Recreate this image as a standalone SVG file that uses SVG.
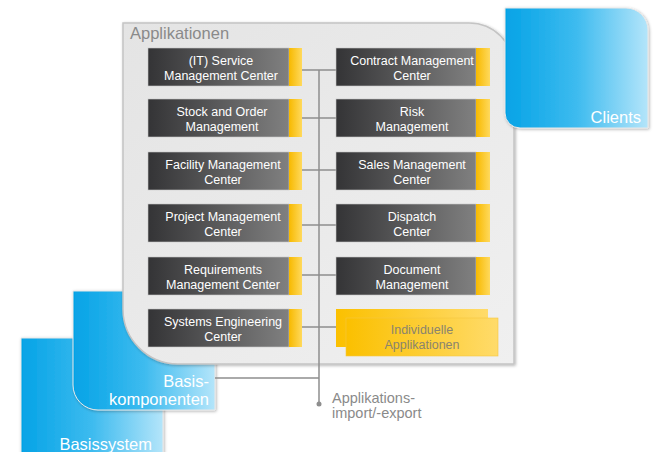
<svg xmlns="http://www.w3.org/2000/svg" width="656" height="452" viewBox="0 0 656 452">
<defs>
<linearGradient id="blue" x1="0" y1="0" x2="1" y2="0">
<stop offset="0" stop-color="#05a3e6"/>
<stop offset="0.5" stop-color="#3dbbef"/>
<stop offset="1" stop-color="#b4e5fa"/>
</linearGradient>
<linearGradient id="panel" x1="0" y1="0" x2="1" y2="1">
<stop offset="0" stop-color="#e4e4e4"/>
<stop offset="1" stop-color="#f0f0f0"/>
</linearGradient>
<linearGradient id="dark" x1="0" y1="0" x2="1" y2="0">
<stop offset="0" stop-color="#343436"/>
<stop offset="1" stop-color="#808080"/>
</linearGradient>
<linearGradient id="yel" x1="0" y1="0" x2="1" y2="0">
<stop offset="0" stop-color="#f7b900"/>
<stop offset="1" stop-color="#ffd95c"/>
</linearGradient>
<linearGradient id="yel2" x1="0" y1="0" x2="1" y2="0">
<stop offset="0" stop-color="#fbc000"/>
<stop offset="1" stop-color="#ffdb6a"/>
</linearGradient>
<filter id="sh" x="-10%" y="-10%" width="120%" height="120%">
<feDropShadow dx="1" dy="1" stdDeviation="1.5" flood-color="#000" flood-opacity="0.3"/>
</filter>
</defs>
<style>
.blue{fill:url(#blue);stroke:#e8e8e8;stroke-width:1;filter:url(#sh)}
.bt{font-family:"Liberation Sans",Arial,sans-serif;font-size:16.5px;fill:#ffffff;text-anchor:end}
.dk{fill:url(#dark);stroke:#c8c8c8;stroke-width:0.6}
.yb{fill:url(#yel)}
.nt{font-family:"Liberation Sans",Arial,sans-serif;font-size:12.5px;fill:#ffffff;text-anchor:middle}
.con{stroke:#8e8e8e;stroke-width:1.5;fill:none}
.gt{font-family:"Liberation Sans",Arial,sans-serif;fill:#8a8a8a}
.it{font-family:"Liberation Sans",Arial,sans-serif;font-size:12.5px;fill:#8a846e;text-anchor:middle}
</style>

<g id="basissystem">
<path class="blue" d="M21,338 H163 V470 H21 Z"/>
<text class="bt" x="152" y="450">Basissystem</text>
</g>

<g id="basiskomponenten">
<path class="blue" d="M73,291 H215 V410 H98 A25,25 0 0 1 73,385 Z"/>
<text class="bt" x="209" y="387">Basis-</text>
<text class="bt" x="209" y="405">komponenten</text>
</g>

<g id="applikationen">
<path d="M123,23 H469 A45,45 0 0 1 514,68 V364 H178 A55,55 0 0 1 123,309 Z" fill="url(#panel)" stroke="#c4c4c4" stroke-width="1.5" filter="url(#sh)"/>
<text class="gt" x="130" y="39" font-size="16.5">Applikationen</text>
</g>

<g id="clients">
<path class="blue" d="M505,8 H626 A22,22 0 0 1 648,30 V128 H520 A15,15 0 0 1 505,113 Z"/>
<text class="bt" x="641" y="123" font-size="16">Clients</text>
</g>

<g id="connectors">
<line class="con" x1="319" y1="70" x2="319" y2="404"/>
<line class="con" x1="302" y1="70" x2="336" y2="70"/>
<line class="con" x1="302" y1="118" x2="336" y2="118"/>
<line class="con" x1="302" y1="170" x2="336" y2="170"/>
<line class="con" x1="302" y1="225" x2="336" y2="225"/>
<line class="con" x1="302" y1="275" x2="336" y2="275"/>
<line class="con" x1="302" y1="327" x2="336" y2="327"/>
<line class="con" x1="215" y1="378" x2="319" y2="378"/>
<circle cx="319" cy="404" r="2.5" fill="#8e8e8e"/>
</g>

<g id="n-it-service">
<rect class="dk" x="148" y="48" width="141" height="38"/><rect class="yb" x="289" y="48" width="13" height="38"/>
<text class="nt" x="221" y="65">(IT) Service</text><text class="nt" x="221" y="80">Management Center</text>
</g>
<g id="n-stock">
<rect class="dk" x="148" y="99" width="141" height="38"/><rect class="yb" x="289" y="99" width="13" height="38"/>
<text class="nt" x="222" y="116">Stock and Order</text><text class="nt" x="222" y="131">Management</text>
</g>
<g id="n-facility">
<rect class="dk" x="148" y="152" width="141" height="38"/><rect class="yb" x="289" y="152" width="13" height="38"/>
<text class="nt" x="223" y="169">Facility Management</text><text class="nt" x="223" y="184">Center</text>
</g>
<g id="n-project">
<rect class="dk" x="148" y="204" width="141" height="38"/><rect class="yb" x="289" y="204" width="13" height="38"/>
<text class="nt" x="223" y="221">Project Management</text><text class="nt" x="223" y="236">Center</text>
</g>
<g id="n-requirements">
<rect class="dk" x="148" y="257" width="141" height="38"/><rect class="yb" x="289" y="257" width="13" height="38"/>
<text class="nt" x="223" y="274">Requirements</text><text class="nt" x="223" y="289">Management Center</text>
</g>
<g id="n-systems">
<rect class="dk" x="148" y="309" width="141" height="38"/><rect class="yb" x="289" y="309" width="13" height="38"/>
<text class="nt" x="223" y="326">Systems Engineering</text><text class="nt" x="223" y="341">Center</text>
</g>

<g id="n-contract">
<rect class="dk" x="336" y="48" width="140" height="38"/><rect class="yb" x="476" y="48" width="14" height="38"/>
<text class="nt" x="412" y="65">Contract Management</text><text class="nt" x="412" y="80">Center</text>
</g>
<g id="n-risk">
<rect class="dk" x="336" y="99" width="140" height="38"/><rect class="yb" x="476" y="99" width="14" height="38"/>
<text class="nt" x="412" y="116">Risk</text><text class="nt" x="412" y="131">Management</text>
</g>
<g id="n-sales">
<rect class="dk" x="336" y="152" width="140" height="38"/><rect class="yb" x="476" y="152" width="14" height="38"/>
<text class="nt" x="412" y="169">Sales Management</text><text class="nt" x="412" y="184">Center</text>
</g>
<g id="n-dispatch">
<rect class="dk" x="336" y="204" width="140" height="38"/><rect class="yb" x="476" y="204" width="14" height="38"/>
<text class="nt" x="412" y="221">Dispatch</text><text class="nt" x="412" y="236">Center</text>
</g>
<g id="n-document">
<rect class="dk" x="336" y="257" width="140" height="38"/><rect class="yb" x="476" y="257" width="14" height="38"/>
<text class="nt" x="412" y="274">Document</text><text class="nt" x="412" y="289">Management</text>
</g>
<g id="n-individuelle">
<rect x="336" y="309" width="152" height="38" fill="url(#yel2)"/>
<rect x="346" y="318" width="152" height="38" fill="url(#yel2)" stroke="#f3c640" stroke-width="0.6"/>
<text class="it" x="422" y="334">Individuelle</text>
<text class="it" x="422" y="349">Applikationen</text>
</g>

<g id="label-import">
<text class="gt" x="332" y="403" font-size="14.5">Applikations-</text>
<text class="gt" x="332" y="418" font-size="14.5">import/-export</text>
</g>
</svg>
